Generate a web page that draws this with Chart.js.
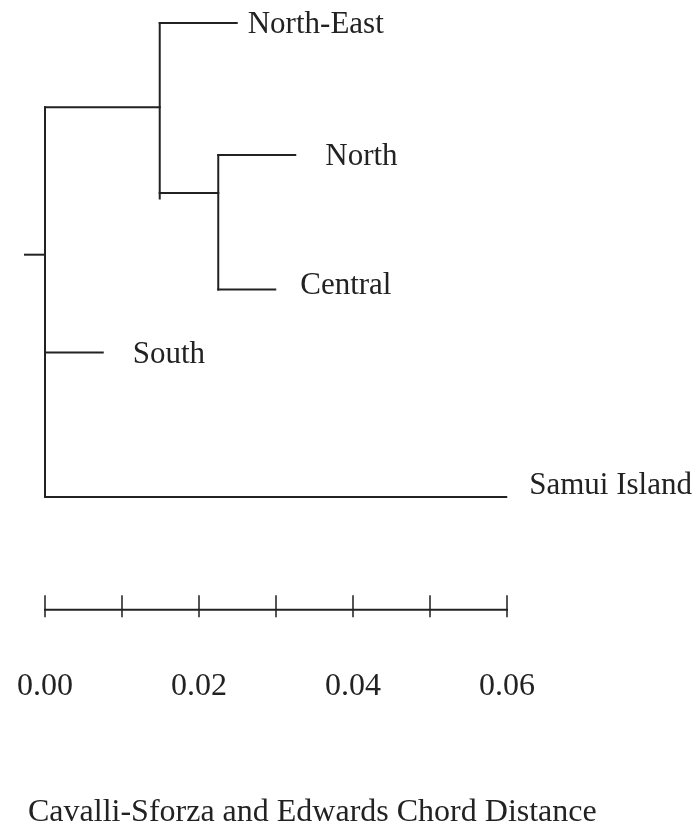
<!DOCTYPE html>
<html><head><meta charset="utf-8">
<script src="https://cdn.jsdelivr.net/npm/chart.js@4"></script>
<style>html,body{margin:0;padding:0;background:#fff;} #wrap{width:700px;height:832px;position:relative;}</style>
</head><body><div id="wrap"><canvas id="c" width="700" height="832"></canvas></div>
<script>
// ---- data ----
const leafNames = ['North-East', 'North', 'Central', 'South', 'Samui Island'];
const leafDist = [0.0249, 0.0325, 0.0299, 0.0075, 0.0599];   // distance from root
const leafRow = [0, 0.985, 1.99, 2.46, 3.54];                 // vertical leaf order
const leafParent = [1, 2, 2, 0, 0];
const nodeNames = ['root', 'NE+(N,C)', 'N+C'];
const nodeDist = [0, 0.0149, 0.0225];
const nodeParent = [-1, 0, 1];
const nodeTopRow = [0.63, 0, 0.985];
const nodeBottomRow = [3.54, 1.31, 1.99];
const nodeAttachRow = [1.73, 0.63, 1.27];
const rootStubDist = -0.0026;
const scaleTicks = [0, 0.01, 0.02, 0.03, 0.04, 0.05, 0.06];
const axisLabels = [0, 0.02, 0.04, 0.06];
const scaleRow = 4.38;
const axisTitle = 'Cavalli-Sforza and Edwards Chord Distance';

// ---- styling / layout (not data) ----
const FONT = "'Liberation Serif', 'Times New Roman', serif";
const INK = '#222';
const labelGap = [11, 30, 25, 30, 23];
const labelDy = [2, 2, -4, 2, -11];

function seg(x1, y1, x2, y2, color) {
  return { data: [{x: x1, y: y1}, {x: x2, y: y2}], borderColor: color || INK, borderWidth: 2,
           pointRadius: 0, showLine: true, fill: false, tension: 0, borderCapStyle: 'square', clip: false };
}
const datasets = [];
nodeDist.forEach((d, i) => {
  datasets.push(seg(d, nodeTopRow[i], d, nodeBottomRow[i]));
  const from = nodeParent[i] < 0 ? rootStubDist : nodeDist[nodeParent[i]];
  datasets.push(seg(from, nodeAttachRow[i], d, nodeAttachRow[i]));
});
leafDist.forEach((d, i) => {
  datasets.push(seg(nodeDist[leafParent[i]], leafRow[i], d, leafRow[i]));
});
datasets.push(seg(scaleTicks[0], scaleRow, scaleTicks[scaleTicks.length - 1], scaleRow));
scaleTicks.forEach(t => datasets.push(seg(t, scaleRow - 0.1, t, scaleRow + 0.05, '#555')));

const leafLabels = {
  id: 'leafLabels',
  afterDatasetsDraw(chart) {
    const {ctx, scales: {x, y}} = chart;
    ctx.save();
    ctx.fillStyle = INK;
    ctx.font = '31px ' + FONT;
    ctx.textAlign = 'left';
    ctx.textBaseline = 'middle';
    leafNames.forEach((n, i) => {
      ctx.fillText(n, x.getPixelForValue(leafDist[i]) + labelGap[i], y.getPixelForValue(leafRow[i]) + labelDy[i]);
    });
    ctx.restore();
  }
};

new Chart(document.getElementById('c'), {
  type: 'scatter',
  data: { datasets },
  options: {
    responsive: false, animation: false, events: [],
    layout: { padding: { left: 28, right: 0, top: 0, bottom: 0 } },
    plugins: {
      legend: { display: false }, tooltip: { enabled: false },
      title: { display: true, position: 'bottom', align: 'start', text: axisTitle, color: INK,
               font: { family: FONT, size: 32, weight: 'normal' }, padding: { top: 84, bottom: 0 } }
    },
    scales: {
      x: { type: 'linear', min: -0.0022078, max: 0.0850649,
           grid: { display: false, drawTicks: false }, border: { display: false },
           afterBuildTicks: s => { s.ticks = axisLabels.map(v => ({ value: v })); },
           afterFit: s => { s.paddingLeft = 0; s.paddingRight = 0; },
           ticks: { color: INK, padding: 4, font: { family: FONT, size: 32 },
                    callback: v => Number(v).toFixed(2), autoSkip: false, maxRotation: 0 } },
      y: { type: 'linear', display: false, reverse: true, min: -0.1716, max: 4.780 }
    }
  },
  plugins: [leafLabels]
});
</script></body></html>
